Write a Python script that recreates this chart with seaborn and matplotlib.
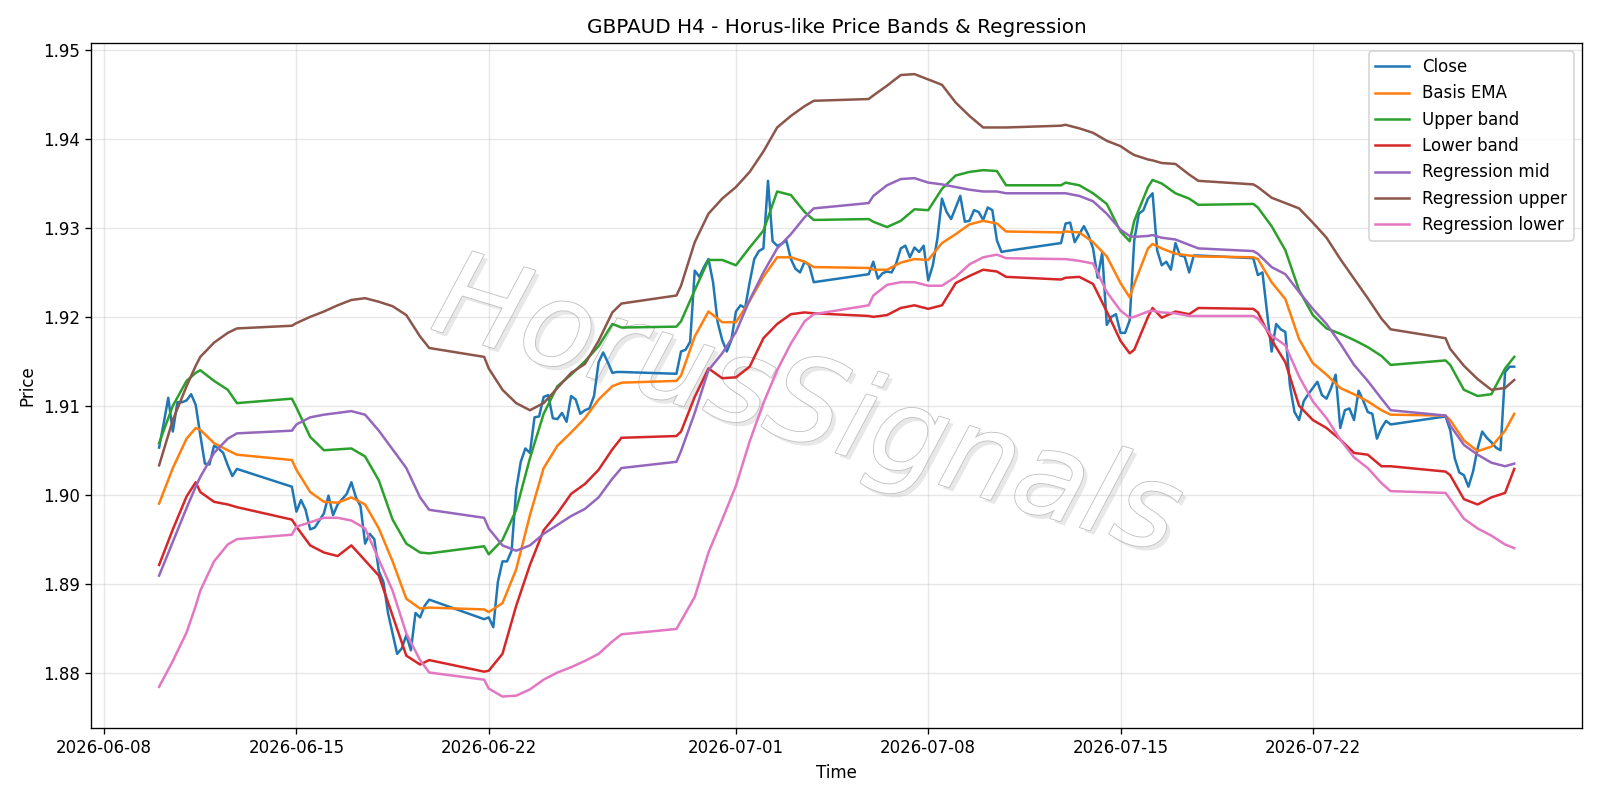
import pandas as pd
import matplotlib
matplotlib.use("Agg")
import matplotlib.pyplot as plt
import matplotlib.patheffects as pe
import seaborn as sns

# H4 bars of a forex week: first bar Sunday 20:00, last bar Friday 20:00
bars = pd.date_range("2026-06-10 00:00", "2026-07-29 08:00", freq="4h")
bars = bars[(bars.dayofweek < 5) | ((bars.dayofweek == 6) & (bars.hour == 20))]

close = [
    # Jun 10 - Jun 12
    1.9053, 1.9080, 1.9109, 1.9071, 1.9104, 1.9104, 1.9106, 1.9113, 1.9101, 1.9067, 1.9035, 1.9034,
    1.9055, 1.9052, 1.9047, 1.9033, 1.9021, 1.9029,
    # Jun 14 - Jun 19
    1.9009, 1.8981, 1.8994, 1.8983, 1.8961, 1.8963, 1.8971, 1.8979, 1.8999, 1.8977, 1.8989, 1.8995,
    1.9001, 1.9014, 1.8997, 1.8987, 1.8945, 1.8956, 1.8950, 1.8914, 1.8902, 1.8867, 1.8844, 1.8821,
    1.8827, 1.8842, 1.8825, 1.8867, 1.8862, 1.8875, 1.8882,
    # Jun 21 - Jun 26
    1.8860, 1.8862, 1.8851, 1.8902, 1.8925, 1.8925, 1.8937, 1.9006, 1.9037, 1.9052, 1.9047, 1.9087,
    1.9088, 1.9110, 1.9112, 1.9086, 1.9085, 1.9092, 1.9082, 1.9111, 1.9107, 1.9091, 1.9095, 1.9097,
    1.9111, 1.9149, 1.9160, 1.9149, 1.9137, 1.9138, 1.9138,
    # Jun 28 - Jul 3
    1.9136, 1.9161, 1.9163, 1.9172, 1.9252, 1.9245, 1.9256, 1.9265, 1.9239, 1.9194, 1.9174, 1.9161,
    1.9174, 1.9206, 1.9213, 1.9210, 1.9239, 1.9265, 1.9274, 1.9277, 1.9353, 1.9285, 1.9280, 1.9282,
    1.9286, 1.9265, 1.9254, 1.9250, 1.9262, 1.9258, 1.9239,
    # Jul 5 - Jul 10
    1.9248, 1.9262, 1.9243, 1.9249, 1.9251, 1.9250, 1.9260, 1.9277, 1.9280, 1.9267, 1.9278, 1.9273,
    1.9280, 1.9241, 1.9258, 1.9288, 1.9333, 1.9318, 1.9310, 1.9323, 1.9336, 1.9307, 1.9308, 1.9320,
    1.9318, 1.9309, 1.9323, 1.9320, 1.9286, 1.9273, 1.9274,
    # Jul 12 - Jul 17
    1.9283, 1.9305, 1.9306, 1.9284, 1.9293, 1.9302, 1.9292, 1.9277, 1.9244, 1.9272, 1.9191, 1.9200,
    1.9203, 1.9182, 1.9182, 1.9196, 1.9286, 1.9316, 1.9320, 1.9333, 1.9339, 1.9275, 1.9258, 1.9262,
    1.9253, 1.9283, 1.9269, 1.9268, 1.9250, 1.9269, 1.9269,
    # Jul 19 - Jul 24
    1.9266, 1.9247, 1.9250, 1.9206, 1.9161, 1.9192, 1.9186, 1.9183, 1.9123, 1.9093, 1.9084, 1.9105,
    1.9113, 1.9120, 1.9127, 1.9112, 1.9108, 1.9120, 1.9135, 1.9075, 1.9095, 1.9097, 1.9084, 1.9117,
    1.9106, 1.9093, 1.9091, 1.9063, 1.9075, 1.9083, 1.9079,
    # Jul 26 - Jul 29
    1.9088, 1.9073, 1.9041, 1.9025, 1.9022, 1.9009, 1.9026, 1.9052, 1.9071, 1.9064, 1.9059, 1.9053,
    1.9050, 1.9138, 1.9144, 1.9144,
]

# the smoother lines were read every 12h, at the weekend edges and at a few turning points
extra_times = pd.to_datetime(["2026-06-11 08:00", "2026-07-15 08:00", "2026-07-16 04:00"])
band_mask = (((bars.dayofweek < 5) & bars.hour.isin([0, 12]))
             | ((bars.dayofweek == 4) & (bars.hour == 20))
             | (bars.dayofweek == 6)
             | bars.isin(extra_times)
             | (bars == bars[-1]))
band_times = bars[band_mask]

basis_ema = [
    1.8990, 1.9030, 1.9063, 1.9075, 1.9073, 1.9058, 1.9050, 1.9045,
    1.9039, 1.9028, 1.9003, 1.8992, 1.8991, 1.8997, 1.8989, 1.8962, 1.8925, 1.8883, 1.8872, 1.8873,
    1.8871, 1.8868, 1.8878, 1.8916, 1.8977, 1.9030, 1.9055, 1.9070, 1.9086, 1.9107, 1.9122, 1.9126,
    1.9128, 1.9134, 1.9178, 1.9206, 1.9194, 1.9194, 1.9218, 1.9245, 1.9267, 1.9267, 1.9262, 1.9256,
    1.9255, 1.9253, 1.9253, 1.9261, 1.9265, 1.9264, 1.9283, 1.9293, 1.9304, 1.9308, 1.9305, 1.9296,
    1.9295, 1.9296, 1.9295, 1.9284, 1.9268, 1.9238, 1.9222, 1.9237, 1.9277, 1.9282, 1.9277, 1.9271,
    1.9269, 1.9268,
    1.9267, 1.9265, 1.9239, 1.9220, 1.9175, 1.9148, 1.9135, 1.9120, 1.9113, 1.9105, 1.9095, 1.9090,
    1.9089, 1.9084, 1.9061, 1.9049, 1.9054, 1.9072, 1.9091,
]
upper_band = [
    1.9058, 1.9100, 1.9128, 1.9137, 1.9140, 1.9128, 1.9118, 1.9103,
    1.9108, 1.9098, 1.9065, 1.9050, 1.9051, 1.9052, 1.9043, 1.9016, 1.8972, 1.8945, 1.8935, 1.8934,
    1.8942, 1.8933, 1.8949, 1.8983, 1.9041, 1.9091, 1.9122, 1.9135, 1.9150, 1.9167, 1.9192, 1.9188,
    1.9189, 1.9195, 1.9230, 1.9264, 1.9264, 1.9258, 1.9278, 1.9297, 1.9341, 1.9337, 1.9318, 1.9309,
    1.9310, 1.9307, 1.9301, 1.9308, 1.9321, 1.9320, 1.9344, 1.9359, 1.9363, 1.9365, 1.9364, 1.9348,
    1.9348, 1.9351, 1.9348, 1.9339, 1.9327, 1.9296, 1.9285, 1.9308, 1.9346, 1.9354, 1.9350, 1.9339,
    1.9333, 1.9326,
    1.9327, 1.9323, 1.9302, 1.9275, 1.9230, 1.9202, 1.9187, 1.9181, 1.9174, 1.9166, 1.9156, 1.9146,
    1.9151, 1.9146, 1.9118, 1.9111, 1.9113, 1.9142, 1.9155,
]
lower_band = [
    1.8921, 1.8961, 1.8998, 1.9014, 1.9003, 1.8992, 1.8989, 1.8986,
    1.8972, 1.8964, 1.8943, 1.8935, 1.8931, 1.8943, 1.8926, 1.8909, 1.8864, 1.8819, 1.8809, 1.8814,
    1.8801, 1.8802, 1.8821, 1.8875, 1.8921, 1.8960, 1.8979, 1.9001, 1.9012, 1.9028, 1.9051, 1.9064,
    1.9066, 1.9071, 1.9110, 1.9142, 1.9131, 1.9132, 1.9144, 1.9176, 1.9192, 1.9203, 1.9205, 1.9204,
    1.9201, 1.9200, 1.9202, 1.9210, 1.9213, 1.9209, 1.9213, 1.9238, 1.9246, 1.9253, 1.9251, 1.9245,
    1.9242, 1.9244, 1.9245, 1.9237, 1.9206, 1.9173, 1.9159, 1.9163, 1.9200, 1.9210, 1.9199, 1.9206,
    1.9203, 1.9210,
    1.9209, 1.9205, 1.9174, 1.9149, 1.9100, 1.9084, 1.9075, 1.9062, 1.9047, 1.9045, 1.9032, 1.9032,
    1.9026, 1.9022, 1.8995, 1.8989, 1.8997, 1.9002, 1.9029,
]
reg_mid = [
    1.8909, 1.8947, 1.8985, 1.9009, 1.9020, 1.9047, 1.9063, 1.9069,
    1.9072, 1.9079, 1.9087, 1.9090, 1.9092, 1.9094, 1.9090, 1.9072, 1.9051, 1.9030, 1.8997, 1.8983,
    1.8974, 1.8962, 1.8943, 1.8937, 1.8943, 1.8956, 1.8966, 1.8976, 1.8984, 1.8997, 1.9018, 1.9030,
    1.9037, 1.9049, 1.9092, 1.9140, 1.9159, 1.9183, 1.9219, 1.9250, 1.9277, 1.9293, 1.9312, 1.9322,
    1.9328, 1.9336, 1.9348, 1.9355, 1.9356, 1.9351, 1.9349, 1.9346, 1.9343, 1.9341, 1.9341, 1.9339,
    1.9339, 1.9339, 1.9336, 1.9330, 1.9316, 1.9298, 1.9291, 1.9290, 1.9291, 1.9292, 1.9289, 1.9287,
    1.9281, 1.9277,
    1.9274, 1.9271, 1.9256, 1.9248, 1.9228, 1.9209, 1.9192, 1.9170, 1.9146, 1.9128, 1.9108, 1.9095,
    1.9089, 1.9078, 1.9056, 1.9045, 1.9036, 1.9032, 1.9035,
]
reg_upper = [
    1.9033, 1.9084, 1.9122, 1.9145, 1.9155, 1.9171, 1.9182, 1.9187,
    1.9190, 1.9193, 1.9200, 1.9206, 1.9213, 1.9219, 1.9221, 1.9217, 1.9212, 1.9202, 1.9178, 1.9165,
    1.9155, 1.9142, 1.9118, 1.9103, 1.9095, 1.9103, 1.9120, 1.9137, 1.9147, 1.9173, 1.9205, 1.9215,
    1.9224, 1.9235, 1.9284, 1.9316, 1.9333, 1.9346, 1.9363, 1.9386, 1.9413, 1.9426, 1.9437, 1.9443,
    1.9445, 1.9449, 1.9460, 1.9472, 1.9473, 1.9467, 1.9461, 1.9441, 1.9426, 1.9413, 1.9413, 1.9413,
    1.9415, 1.9416, 1.9412, 1.9407, 1.9398, 1.9392, 1.9385, 1.9382, 1.9377, 1.9376, 1.9373, 1.9372,
    1.9360, 1.9353,
    1.9349, 1.9346, 1.9334, 1.9328, 1.9322, 1.9306, 1.9289, 1.9265, 1.9243, 1.9221, 1.9198, 1.9186,
    1.9176, 1.9164, 1.9145, 1.9130, 1.9118, 1.9120, 1.9129,
]
reg_lower = [
    1.8784, 1.8813, 1.8845, 1.8875, 1.8892, 1.8925, 1.8944, 1.8950,
    1.8955, 1.8964, 1.8969, 1.8974, 1.8974, 1.8971, 1.8962, 1.8927, 1.8892, 1.8844, 1.8814, 1.8800,
    1.8792, 1.8782, 1.8773, 1.8774, 1.8781, 1.8792, 1.8800, 1.8806, 1.8813, 1.8821, 1.8835, 1.8843,
    1.8849, 1.8858, 1.8885, 1.8935, 1.8972, 1.9010, 1.9060, 1.9103, 1.9140, 1.9170, 1.9195, 1.9203,
    1.9213, 1.9224, 1.9236, 1.9239, 1.9239, 1.9235, 1.9235, 1.9245, 1.9259, 1.9267, 1.9270, 1.9266,
    1.9265, 1.9265, 1.9263, 1.9260, 1.9228, 1.9207, 1.9199, 1.9200, 1.9206, 1.9207, 1.9205, 1.9204,
    1.9201, 1.9201,
    1.9201, 1.9198, 1.9179, 1.9168, 1.9133, 1.9105, 1.9086, 1.9062, 1.9042, 1.9030, 1.9013, 1.9004,
    1.9002, 1.8995, 1.8973, 1.8962, 1.8954, 1.8944, 1.8940,
]

bands = [
    ("Basis EMA", basis_ema, "tab:orange"),
    ("Upper band", upper_band, "tab:green"),
    ("Lower band", lower_band, "tab:red"),
    ("Regression mid", reg_mid, "tab:purple"),
    ("Regression upper", reg_upper, "tab:brown"),
    ("Regression lower", reg_lower, "tab:pink"),
]

fig, ax = plt.subplots(figsize=(40 / 3, 20 / 3), dpi=120)

sns.lineplot(x=bars, y=close, ax=ax, label="Close", color="tab:blue", linewidth=1.5, estimator=None)
for name, vals, col in bands:
    sns.lineplot(x=band_times, y=vals, ax=ax, label=name, color=col, linewidth=1.5, estimator=None)

# watermark
ax.text(0.48, 0.465, "HorusSignals", transform=ax.transAxes, fontsize=71, fontstyle="italic",
        rotation=-17, ha="center", va="center", color="white", zorder=1,
        path_effects=[pe.SimplePatchShadow(offset=(2.5, -2.5), shadow_rgbFace="0.55", alpha=0.2),
                      pe.Stroke(linewidth=1.0, foreground="0.75"),
                      pe.Normal()])

ax.set_title("GBPAUD H4 - Horus-like Price Bands & Regression")
ax.set_xlabel("Time")
ax.set_ylabel("Price")
ax.grid(True, alpha=0.3)
ax.legend(loc="upper right")

plt.tight_layout()
plt.savefig("out.png", dpi=120)
